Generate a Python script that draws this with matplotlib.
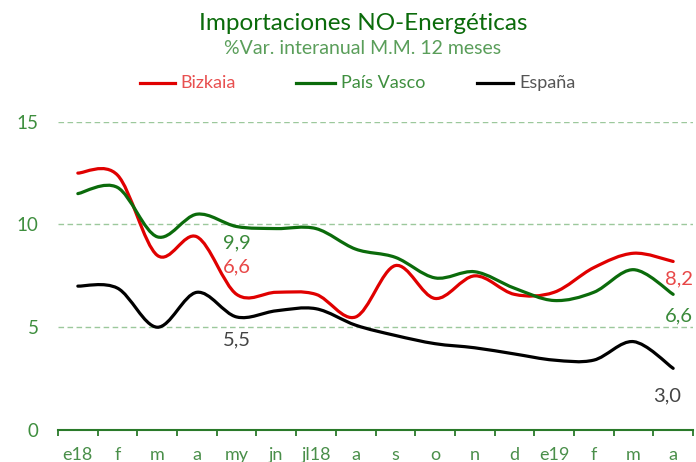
import matplotlib.pyplot as plt
import numpy as np
from matplotlib.path import Path
from matplotlib.patches import PathPatch

meses = ["e18", "f", "m", "a", "my", "jn", "jl18", "a", "s", "o", "n", "d",
         "e19", "f", "m", "a"]
bizkaia = [12.5, 12.4, 8.5, 9.4, 6.6, 6.7, 6.6, 5.5, 8.0, 6.4, 7.5, 6.6,
           6.7, 7.9, 8.6, 8.2]
pais_vasco = [11.5, 11.8, 9.4, 10.5, 9.9, 9.8, 9.8, 8.8, 8.4, 7.4, 7.7, 6.9,
              6.3, 6.7, 7.8, 6.6]
espana = [7.0, 6.9, 5.0, 6.7, 5.5, 5.8, 5.9, 5.1, 4.6, 4.2, 4.0, 3.7,
          3.4, 3.4, 4.3, 3.0]

plt.rcParams['font.family'] = ['Lato', 'DejaVu Sans']

RED = '#e00000'
GREEN = '#0b6b0b'
BLACK = '#000000'


def smooth_path(xs, ys):
    # bezier curve through the points, like excel's smoothed line
    pts = np.column_stack([xs, ys]).astype(float)
    verts = [pts[0]]
    codes = [Path.MOVETO]
    n = len(pts)
    for i in range(n - 1):
        p0 = pts[i - 1] if i > 0 else pts[i]
        p1 = pts[i]
        p2 = pts[i + 1]
        p3 = pts[i + 2] if i + 2 < n else pts[i + 1]
        c1 = p1 + (p2 - p0) / 6.0
        c2 = p2 - (p3 - p1) / 6.0
        verts += [c1, c2, p2]
        codes += [Path.CURVE4] * 3
    return Path(verts, codes)


fig = plt.figure(figsize=(6.96, 4.62), dpi=100)
ax = fig.add_axes([58 / 696, 1 - 430 / 462, 635 / 696, (430 - 121.7) / 462])

x = np.arange(len(meses))
for serie, color in [(bizkaia, RED), (pais_vasco, GREEN), (espana, BLACK)]:
    patch = PathPatch(smooth_path(x, serie), fill=False, edgecolor=color,
                      linewidth=2.3, capstyle='round', joinstyle='round', zorder=3)
    ax.add_patch(patch)

ax.set_xlim(-0.5, len(meses) - 0.5)
ax.set_ylim(0, 15)

# gridlines
for v in [5, 10, 15]:
    ax.axhline(v, color='#9cc89c', linestyle=(0, (4, 2.5)), linewidth=1.0, zorder=1)

for s in ['top', 'right', 'left']:
    ax.spines[s].set_visible(False)
ax.spines['bottom'].set_color('#2a7a2a')
ax.spines['bottom'].set_linewidth(1.5)

ax.set_yticks([0, 5, 10, 15])
ax.set_yticklabels(['0', '5', '10', '15'])
ax.tick_params(axis='y', length=0, labelsize=13.5, labelcolor='#3e8e3e', pad=14)

ax.set_xticks(np.arange(-0.5, len(meses), 1.0))
ax.set_xticklabels([])
ax.set_xticks(x, minor=True)
ax.set_xticklabels(meses, minor=True)
ax.tick_params(axis='x', which='major', length=4, width=1.3, color='#2a7a2a', direction='out')
ax.tick_params(axis='x', which='minor', length=0, labelsize=13, labelcolor='#4a8f4a', pad=12)

# data labels
ax.text(4, 9.1, '9,9', color='#3a8a3a', fontsize=14.5, ha='center', va='center')
ax.text(4, 7.95, '6,6', color='#e84848', fontsize=14.5, ha='center', va='center')
ax.text(4, 4.4, '5,5', color='#444444', fontsize=14.5, ha='center', va='center')
ax.text(15.15, 7.35, '8,2', color='#e84848', fontsize=14.5, ha='center', va='center')
ax.text(15.15, 5.55, '6,6', color='#3a8a3a', fontsize=14.5, ha='center', va='center')
ax.text(14.85, 1.65, '3,0', color='#444444', fontsize=14.5, ha='center', va='center')

# title and subtitle
fig.text(363 / 696, 1 - 23 / 462, 'Importaciones NO-Energéticas', color='#0b6b0b',
         fontsize=17.5, ha='center', va='center')
fig.text(363 / 696, 1 - 49 / 462, '%Var. interanual M.M. 12 meses', color='#5a9e5a',
         fontsize=14, ha='center', va='center')

# legend
leg_y = 1 - 83 / 462
items = [(140, 175, 180, 'Bizkaia', RED, '#e85050'),
         (296, 335, 341, 'País Vasco', GREEN, '#3f8f3f'),
         (477, 513, 519, 'España', BLACK, '#555555')]
for x0, x1, xt, label, lc, tc in items:
    fig.add_artist(plt.Line2D([x0 / 696, x1 / 696], [leg_y, leg_y], color=lc,
                              linewidth=2.3, transform=fig.transFigure))
    fig.text(xt / 696, leg_y, label, color=tc, fontsize=13, ha='left', va='center')

plt.savefig('out.png', dpi=100)
plt.close()
